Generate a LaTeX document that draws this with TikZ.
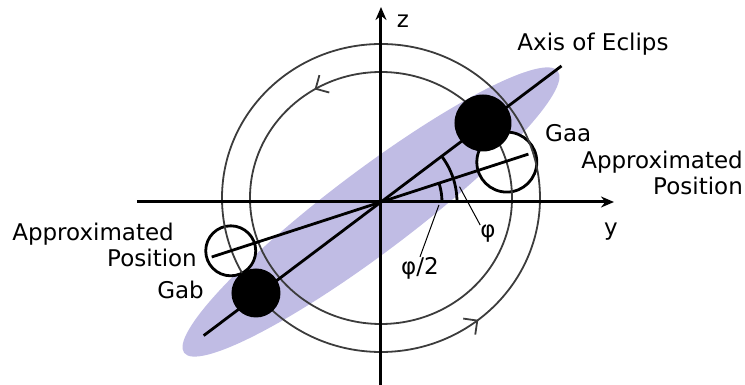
\documentclass[tikz,border=0pt]{standalone}
\usepackage{fontspec}
\setmainfont{DejaVu Sans}
\usetikzlibrary{arrows.meta, positioning, decorations.markings}
\definecolor{eclips}{RGB}{192,188,228}
\definecolor{orbitgray}{RGB}{60,60,60}
\tikzset{
  % Coordinate axes
  axisarr/.style={
    -{Stealth[length=13pt,width=11pt]}, line width=3pt
  },
  % Orbit rings
  orbit/.style={
    draw=orbitgray, line width=1.8pt
  },
  % Orbit direction tip
  dirtip/.style={
    decoration={markings, mark=at position #1 with
      {\arrow{Straight Barb[length=10pt,width=20pt,line width=1.8pt]}}},
    postaction={decorate}
  },
  % Body (filled disk)
  ball/.style={
    circle, fill=black, inner sep=0pt
  },
  % Approximated position (open disk)
  approx/.style={
    circle, draw=black, fill=white, line width=2.8pt, inner sep=0pt
  },
  % Axis of eclipse and tilted line
  axline/.style={
    line width=2.8pt
  },
  % Angle arc
  anglearc/.style={
    line width=2.8pt
  },
  % Thin leader line
  leader/.style={
    line width=1pt
  },
  % Text labels
  lbl/.style={
    font=\fontsize{23}{26}\selectfont, align=right, inner sep=0pt
  },
}

\begin{document}
\begin{tikzpicture}[x=1pt, y=1pt]
  \useasboundingbox (-381,-183) rectangle (364,202);

  % plane of the eclipse
  \fill[eclips, rotate around={37:(-10,-10)}] (-10,-10) ellipse [x radius=234pt, y radius=41pt];

  % approximated positions
  \node[approx, minimum size=60pt] (gaaapx) at (17.6:132) {};
  \node[approx, minimum size=50pt] (gabapx) at (198:158) {};

  % orbits
  \draw[orbit, dirtip=0.336] (0,4) ellipse [x radius=131pt, y radius=126pt];
  \draw[orbit, dirtip=0.856] (0,4) ellipse [x radius=159pt, y radius=154pt];

  % axes
  \coordinate (o) at (0,0);
  \coordinate (zbot) at (0,-183);
  \coordinate (ztop) at (0,195);
  \coordinate (yleft) at (-244,0);
  \coordinate (yright) at (233,0);
  \draw[axisarr] (zbot) -- (ztop);
  \draw[axisarr] (yleft) -- (yright);

  % axis of eclipse and approximated line
  \coordinate (axtop) at (37:226);
  \coordinate (axbot) at (217:222);
  \coordinate (apxtop) at (18:155);
  \coordinate (apxbot) at (198:178);
  \draw[axline] (axbot) -- (axtop);
  \draw[axline] (apxbot) -- (apxtop);

  % bodies
  \node[ball, minimum size=57pt] (gaa) at (102,79) {};
  \node[ball, minimum size=49pt] (gab) at (-125,-91) {};

  % angles
  \coordinate (phistart) at (0:76);
  \coordinate (halfstart) at (0:61);
  \draw[anglearc] (phistart) arc[start angle=0, end angle=37, radius=76pt];
  \draw[anglearc] (halfstart) arc[start angle=0, end angle=18, radius=61pt];

  % labels
  \node[lbl] (zlbl) at (22,181) {z};
  \node[lbl] (ylbl) at (230,-30) {y};
  \node[lbl] (axlbl) at (212,158) {Axis of Eclips};
  \node[lbl, anchor=west] (gaalbl) at (164,69) {Gaa};
  \node[lbl, anchor=east] (gaatxt) at (362,29) {Approximated\\Position};
  \node[lbl, anchor=east] (gabtxt) at (-184,-43) {Approximated\hspace*{23pt}\\Position};
  \node[lbl, anchor=east] (gablbl) at (-177,-88) {Gab};
  \node[lbl] (philbl) at (107,-32) {φ};
  \node[lbl] (halflbl) at (39,-66) {φ/2};

  % leaders
  \coordinate (phileader) at (11:80);
  \coordinate (halfleader) at (-3:58);
  \draw[leader] (phileader) -- (philbl.north west);
  \draw[leader] (halfleader) -- (halflbl.north);
\end{tikzpicture}
\end{document}
